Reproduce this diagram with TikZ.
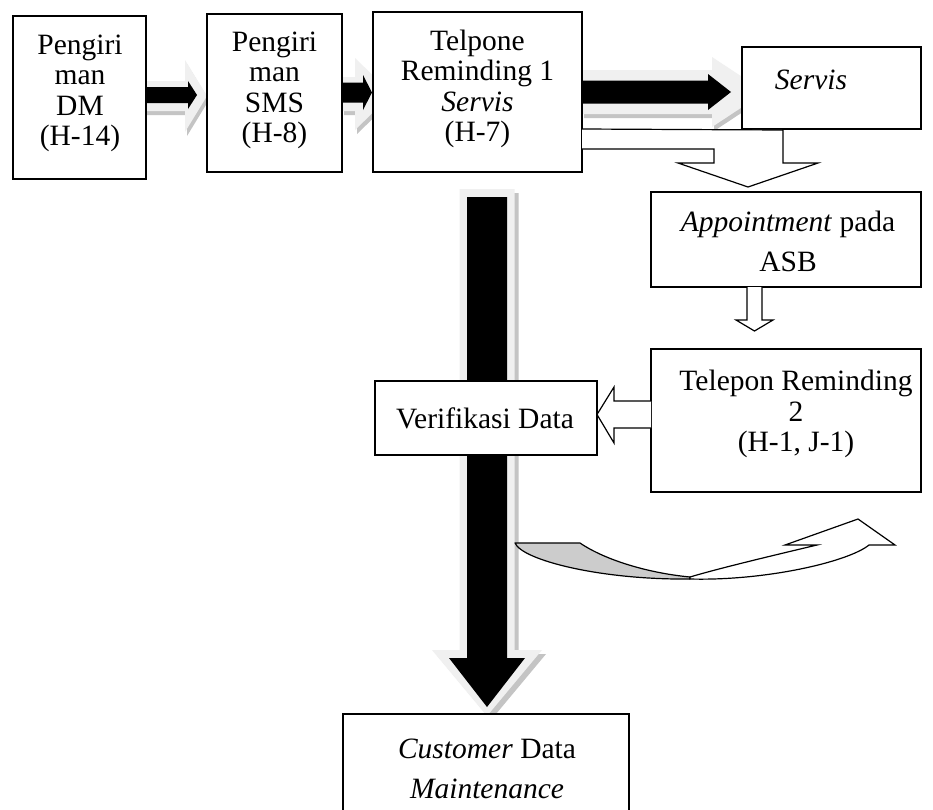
\documentclass[tikz,border=0pt]{standalone}
\usepackage{fontspec}
\setmainfont{Liberation Serif}
\definecolor{glow}{gray}{0.94}
\definecolor{glowshadow}{gray}{0.77}
\definecolor{curlshade}{gray}{0.8}

% block arrow pointing right: x0, head base x, tip x, centre y, shaft half, head half, fill
\newcommand\RArrow[7]{\fill[#7] (#1,#4-#5) -- (#2,#4-#5) -- (#2,#4-#6) -- (#3,#4) -- (#2,#4+#6) -- (#2,#4+#5) -- (#1,#4+#5) -- cycle;}
% block arrow pointing down: y0, head base y, tip y, centre x, shaft half, head half, fill
\newcommand\DArrow[7]{\fill[#7] (#4-#5,#1) -- (#4-#5,#2) -- (#4-#6,#2) -- (#4,#3) -- (#4+#6,#2) -- (#4+#5,#2) -- (#4+#5,#1) -- cycle;}

\begin{document}
\begin{tikzpicture}[x=1pt,y=-1pt,
  box/.style={draw, fill=white, line width=1.2pt, inner sep=0pt},
  txt/.style={align=center, inner sep=0pt, font=\fontsize{29.5}{30.5}\selectfont},
  txtwide/.style={align=center, inner sep=0pt, font=\fontsize{29.5}{40}\selectfont},
  hollow/.style={draw, fill=white, line width=1.2pt, line join=miter}]

\useasboundingbox (0,0) rectangle (933,809);
\clip (0,0) rectangle (933,809);
\fill[white] (0,0) rectangle (933,809);

% --- shaded block arrows (shadow, glow, black body) ---
% DM -> SMS
\begin{scope}[shift={(2,4)}]\RArrow{135}{185}{207}{96}{15}{36}{glowshadow}\end{scope}
\RArrow{135}{185}{207}{96}{15}{36}{glow}
\RArrow{142}{188}{197}{95}{8}{14}{black}
% SMS -> Telpone
\begin{scope}[shift={(2,4)}]\RArrow{342}{355}{392}{94}{17}{36}{glowshadow}\end{scope}
\RArrow{342}{355}{392}{94}{17}{36}{glow}
\RArrow{342}{363}{372}{92.5}{10}{17.5}{black}
% Telpone -> Servis
\begin{scope}[shift={(2,4)}]\RArrow{582}{712}{765}{92}{22}{35}{glowshadow}\end{scope}
\RArrow{582}{712}{765}{92}{22}{35}{glow}
\RArrow{582}{708}{731}{92}{11.5}{18}{black}
% Telpone -> Customer Data Maintenance
\begin{scope}[shift={(4,4)}]\DArrow{189}{650}{716}{487}{27.5}{55}{glowshadow}\end{scope}
\DArrow{189}{650}{716}{487}{27.5}{55}{glow}
\DArrow{197}{658}{707}{487}{20}{38}{black}

% --- boxes ---
\node[box, minimum width=133pt, minimum height=163pt] (dm)     at (79.5,97.5) {};
\node[box, minimum width=135pt, minimum height=158pt] (sms)    at (274.5,93) {};
\node[box, minimum width=209pt, minimum height=160pt] (tel1)   at (477.5,92) {};
\node[box, minimum width=179pt, minimum height=82pt]  (servis) at (831.5,88) {};
\node[box, minimum width=270pt, minimum height=95pt]  (appt)   at (786,239.5) {};
\node[box, minimum width=270pt, minimum height=143pt] (tel2)   at (786,420.5) {};
\node[box, minimum width=222pt, minimum height=74pt]  (verif)  at (486,418) {};
\node[box, minimum width=286pt, minimum height=130pt] (cdm)    at (486,779) {};

% --- outlined arrows ---
% Telpone and Servis merge down into Appointment
\path[hollow] (582,129) -- (783,130) -- (783,163) -- (818,163) -- (748,187)
  -- (678,163) -- (714,163) -- (714,149) -- (582,149);
% Appointment -> Telepon Reminding 2
\path[hollow] (747,287) -- (747,320) -- (736,320) -- (754.5,331) -- (773,320)
  -- (762,320) -- (762,287);
% Telepon Reminding 2 -> Verifikasi Data
\path[hollow] (651,401) -- (614,401) -- (614,387) -- (597,414.5) -- (614,443)
  -- (614,428) -- (651,428);

% --- curved arrow below the verification step ---
\filldraw[fill=curlshade, line width=1.2pt, line join=round]
  (515,543) .. controls (522,560) and (600,580) .. (690,579)
  -- (690,577) .. controls (648,573) and (605,560) .. (580,543) -- cycle;
\filldraw[fill=white, line width=1.2pt, line join=miter]
  (690,577) .. controls (720,568) and (775,555) .. (817,545)
  -- (785,545) -- (858,519) -- (895,545) -- (869,545)
  .. controls (848,562) and (765,581) .. (690,579) -- cycle;

% --- texts ---
\node[txt] (dm-t)     at (80,93.5)  {Pengiri\\man\\DM\\(H-14)};
\node[txt] (sms-t)    at (274.5,90.5) {Pengiri\\man\\SMS\\(H-8)};
\node[txt] (tel1-t)   at (477.5,89) {Telpone\\Reminding 1\\\textit{Servis}\\(H-7)};
\node[txt] (servis-t) at (811,80)   {\textit{Servis}};
\node[txtwide] (appt-t) at (788,241) {\textit{Appointment} pada\\ASB};
\node[txt] (tel2-t)   at (796,414)  {Telepon Reminding\\2\\(H-1, J-1)};
\node[txt] (verif-t)  at (485,418)  {Verifikasi Data};
\node[txtwide] (cdm-t) at (487,769) {\textit{Customer} Data\\\textit{Maintenance}};
\end{tikzpicture}
\end{document}
